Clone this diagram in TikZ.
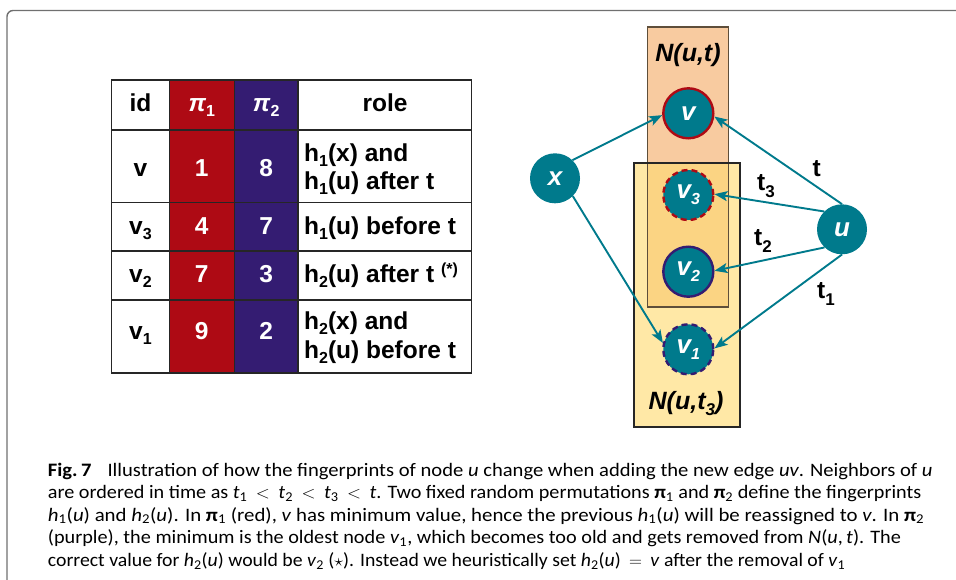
\documentclass[tikz,border=0pt]{standalone}
\usepackage{fontspec}
\usepackage{graphicx}
\setmainfont{Carlito}
\newfontfamily\arialf{Liberation Sans}
\usetikzlibrary{arrows.meta}
\definecolor{teal1}{HTML}{007A8C}
\definecolor{redc}{HTML}{AE0A14}
\definecolor{purc}{HTML}{341C72}
\definecolor{orangef}{HTML}{F8CBA0}
\definecolor{yellowf}{HTML}{FFE8A6}
\definecolor{overf}{HTML}{FBD483}
\definecolor{framec}{HTML}{707070}
\definecolor{oborder}{HTML}{5E4E3A}
\newcommand\tabfont{\arialf\bfseries\fontsize{24.5}{28}\selectfont}
\newcommand\vfont{\arialf\bfseries\itshape\fontsize{26}{28}\selectfont}
\newcommand\elfont{\arialf\bfseries\fontsize{24.5}{28}\selectfont}
\newcommand\nfont{\arialf\bfseries\itshape\fontsize{25}{28}\selectfont}
\newcommand\capfont{\fontsize{19}{23}\selectfont}
\newcommand\tsub[1]{\raisebox{-5pt}{\fontsize{16}{16}\selectfont #1}}
\newcommand\csub[1]{\raisebox{-2.5pt}{\fontsize{13.5}{13.5}\selectfont #1}\kern0.5pt\relax}
\newcommand\mi[1]{\textit{#1}}
\newcommand\rel[1]{\hspace{8pt}$#1$\hspace{8pt}}
\newcommand\capbox[2]{\resizebox{#1pt}{\height}{#2}}
\tikzset{
  tline/.style={line width=1.4pt, draw=black!85},
  tcell/.style={inner sep=0pt, anchor=base, font=\tabfont},
  tcellw/.style={tcell, text=white},
  trole/.style={inner sep=0pt, anchor=base west, font=\tabfont},
  vert/.style={circle, fill=teal1, minimum size=50pt, inner sep=0pt, text=white, font=\vfont},
  conn/.style={draw=teal1, line width=1.9pt, -{Stealth[length=13pt,width=10pt,inset=3pt]}},
  elabel/.style={inner sep=0pt, anchor=base west, font=\elfont},
  nlabel/.style={inner sep=0pt, anchor=base, font=\nfont},
  capline/.style={inner sep=0pt, anchor=base west, font=\capfont},
  redring/.style={draw=redc, line width=2.4pt},
  purring/.style={draw=purc, line width=2.4pt},
  dashring/.style={dash pattern=on 6pt off 4pt},
}
\begin{document}
\begin{tikzpicture}[x=1pt,y=-1pt]
\useasboundingbox (0,0) rectangle (956,579);
\begin{scope}
\clip (0,0) rectangle (956,579);
\draw[framec, line width=1.4pt, rounded corners=6pt] (7,700) -- (7,10.5) -- (1100,10.5);
\end{scope}

% ---------- table ----------
\fill[redc] (169.3,80) rectangle (234.3,373);
\fill[purc] (234.3,80) rectangle (298,373);
\draw[tline] (111.7,80) rectangle (471.7,373);
\foreach \xx in {169.3,234.3,298} \draw[tline] (\xx,80) -- (\xx,373);
\foreach \yy in {130,202.7,251,300} \draw[tline] (111.7,\yy) -- (471.7,\yy);

\node[tcell] (hid) at (140.5,111) {id};
\node[tcellw] (hp1) at (201.8,111) {\textit{π}\tsub{1}};
\node[tcellw] (hp2) at (266.2,111) {\textit{π}\tsub{2}};
\node[tcell] (hrole) at (385,111) {role};

\node[tcell] (id1) at (140.5,176) {v};
\node[tcellw] (a1) at (201.8,176) {1};
\node[tcellw] (b1) at (266.2,176) {8};
\node[trole] (r1a) at (304,161.7) {h\tsub{1}(x) and};
\node[trole] (r1b) at (304,189.3) {h\tsub{1}(u) after t};

\node[tcell] (id2) at (140.5,234) {v\tsub{3}};
\node[tcellw] (a2) at (201.8,234) {4};
\node[tcellw] (b2) at (266.2,234) {7};
\node[trole] (r2) at (304,234) {h\tsub{1}(u) before t};

\node[tcell] (id3) at (140.5,282.3) {v\tsub{2}};
\node[tcellw] (a3) at (201.8,282.3) {7};
\node[tcellw] (b3) at (266.2,282.3) {3};
\node[trole] (r3) at (304,282.3) {h\tsub{2}(u) after t \raisebox{8pt}{\fontsize{16}{16}\selectfont(*)}};

\node[tcell] (id4) at (140.5,339.3) {v\tsub{1}};
\node[tcellw] (a4) at (201.8,339.3) {9};
\node[tcellw] (b4) at (266.2,339.3) {2};
\node[trole] (r4a) at (304,329.3) {h\tsub{2}(x) and};
\node[trole] (r4b) at (304,358.3) {h\tsub{2}(u) before t};

% ---------- neighbourhood boxes ----------
\node[fill=orangef, minimum width=80.6pt, minimum height=279.4pt, inner sep=0pt] (Nut) at (688,167) {};
\node[fill=yellowf, minimum width=105.7pt, minimum height=263.4pt, inner sep=0pt] (Nut3) at (687.15,295) {};
\fill[overf] (Nut.west |- Nut3.north) rectangle (Nut.south east);
\draw[oborder, line width=1.5pt] (Nut.north west) rectangle (Nut.south east);
\draw[black!85, line width=1.5pt] (Nut3.north west) rectangle (Nut3.south east);
\node[nlabel] (lNut) at (688,61) {N(u,t)};
\node[nlabel] (lNut3) at (686,409) {N(u,t\raisebox{-6pt}{\fontsize{17}{17}\selectfont 3})};

% ---------- vertices ----------
\node[vert, redring] (v) at (688.3,113.3) {v};
\node[vert, redring, dashring] (v3) at (688.3,195) {v\raisebox{-6pt}{\fontsize{16}{16}\selectfont 3}};
\node[vert, purring] (v2) at (688.3,271.7) {v\raisebox{-6pt}{\fontsize{16}{16}\selectfont 2}};
\node[vert, purring, dashring] (v1) at (688.3,349.3) {v\raisebox{-6pt}{\fontsize{16}{16}\selectfont 1}};
\node[vert] (x) at (555,178.3) {x};
\node[vert] (u) at (842,229.3) {u};

% ---------- connectors ----------
\draw[conn] (x.46) -- (v.184);
\draw[conn] (x.-45) -- (v1.166);
\draw[conn] (u.90) -- (v.-7);
\draw[conn] (u.135) -- (v3.2);
\draw[conn] (u.226) -- (v2.2);
\draw[conn] (u.270) -- (v1.2);

\node[elabel] (lt) at (812.5,176.7) {t};
\node[elabel] (lt3) at (757,190) {t\raisebox{-7pt}{\fontsize{17}{17}\selectfont 3}};
\node[elabel] (lt2) at (754,245) {t\raisebox{-7pt}{\fontsize{17}{17}\selectfont 2}};
\node[elabel] (lt1) at (817,298.3) {t\raisebox{-7pt}{\fontsize{17}{17}\selectfont 1}};

% ---------- caption ----------
\node[capline] (c1) at (47.7,476) {\capbox{884.6}{\textbf{Fig.\,7}\hspace{0.55em} Illustration of how the fingerprints of node \mi{u} change when adding the new edge \mi{uv}. Neighbors of \mi{u}}};
\node[capline] (c2) at (47.7,498.5) {\capbox{873.3}{are ordered in time as \mi{t}\csub{1}\rel{<}\mi{t}\csub{2}\rel{<}\mi{t}\csub{3}\rel{<}\mi{t}. Two fixed random permutations \textbf{π}\csub{1} and \textbf{π}\csub{2} define the fingerprints}};
\node[capline] (c3) at (47.7,521) {\capbox{876.3}{\mi{h}\csub{1}(\mi{u}) and \mi{h}\csub{2}(\mi{u}). In \textbf{π}\csub{1} (red), \mi{v} has minimum value, hence the previous \mi{h}\csub{1}(\mi{u}) will be reassigned to \mi{v}. In \textbf{π}\csub{2}}};
\node[capline] (c4) at (47.7,543.5) {\capbox{853}{(purple), the minimum is the oldest node \mi{v}\csub{1}, which becomes too old and gets removed from \mi{N}(\mi{u},\,\mi{t}). The}};
\node[capline] (c5) at (47.7,566.5) {\capbox{797.3}{correct value for \mi{h}\csub{2}(\mi{u}) would be \mi{v}\csub{2} ($\star$). Instead we heuristically set \mi{h}\csub{2}(\mi{u})\rel{=}\mi{v} after the removal of \mi{v}\csub{1}}};
\end{tikzpicture}
\end{document}
